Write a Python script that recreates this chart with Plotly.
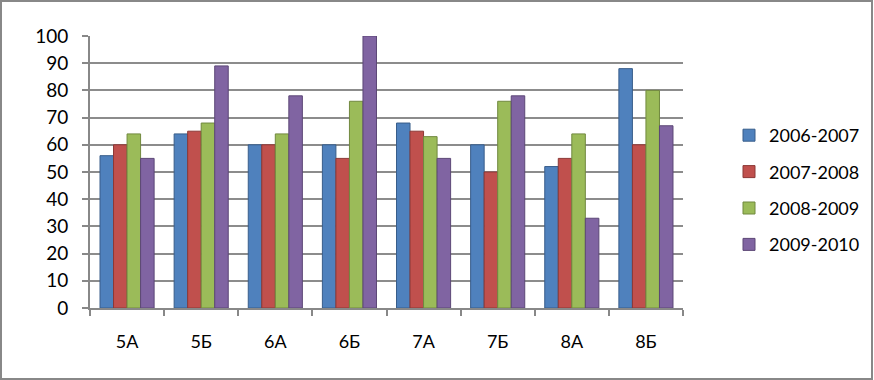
import plotly.graph_objects as go

categories = ["5А", "5Б", "6А", "6Б", "7А", "7Б", "8А", "8Б"]
series_names = ["2006-2007", "2007-2008", "2008-2009", "2009-2010"]
s2006_2007 = [56, 64, 60, 60, 68, 60, 52, 88]
s2007_2008 = [60, 65, 60, 55, 65, 50, 55, 60]
s2008_2009 = [64, 68, 64, 76, 63, 76, 64, 80]
s2009_2010 = [55, 89, 78, 100, 55, 78, 33, 67]
y_ticks = [0, 10, 20, 30, 40, 50, 60, 70, 80, 90, 100]

colors = ["#4F81BD", "#C0504D", "#9BBB59", "#8064A2"]
edge = ["#385D8A", "#8C3836", "#71893F", "#5C4776"]
values = [s2006_2007, s2007_2008, s2008_2009, s2009_2010]

W, H = 874, 380
L, R, T, B = 90, 191, 36, 72

fig = go.Figure()
for name, vals, c, e in zip(series_names, values, colors, edge):
    fig.add_trace(go.Bar(
        x=categories, y=vals, name=name, legendgroup=name,
        marker=dict(color=c, line=dict(color=e, width=1)),
    ))

pw = W - L - R
ph = H - T - B

font = "Lato, 'Liberation Sans Narrow', 'DejaVu Sans', sans-serif"
fig.update_layout(
    width=W, height=H,
    margin=dict(l=L, r=R, t=T, b=B, autoexpand=False),
    paper_bgcolor="white", plot_bgcolor="white",
    barmode="group", bargap=0.27, bargroupgap=0,
    font=dict(family=font, size=18, color="#000000"),
    showlegend=True,
    legend=dict(
        x=(729 - L) / pw, xanchor="left", xref="paper",
        y=(H - B - 190) / ph, yanchor="middle",
        font=dict(size=18, family=font),
        itemwidth=30, tracegroupgap=10,
        bgcolor="rgba(0,0,0,0)",
    ),
    xaxis=dict(
        automargin=False,
        showgrid=False, showline=True, linecolor="#888888", linewidth=2,
        ticks="outside", tickson="boundaries", ticklen=6, tickcolor="#888888",
        tickwidth=2, tickfont=dict(size=18), ticklabelstandoff=16,
    ),
    yaxis=dict(
        automargin=False,
        range=[0, 100], tickvals=y_ticks,
        showgrid=True, gridcolor="#8C8C8C", gridwidth=2,
        showline=True, linecolor="#888888", linewidth=2,
        ticks="outside", ticklen=6, tickcolor="#888888", tickwidth=2,
        tickfont=dict(size=19), zeroline=False, ticklabelstandoff=10,
    ),
)

fig.add_shape(
    type="rect", xref="paper", yref="paper",
    x0=(1 - L) / pw, x1=(W - 2 - L) / pw,
    y0=(H - B - (H - 1)) / ph, y1=(H - B - 1) / ph,
    line=dict(color="#888888", width=2), layer="above",
)
fig.write_html(
    "out.html",
    config={"displayModeBar": False},
    post_script="document.body.style.margin='0';document.body.style.overflow='hidden';",
)
